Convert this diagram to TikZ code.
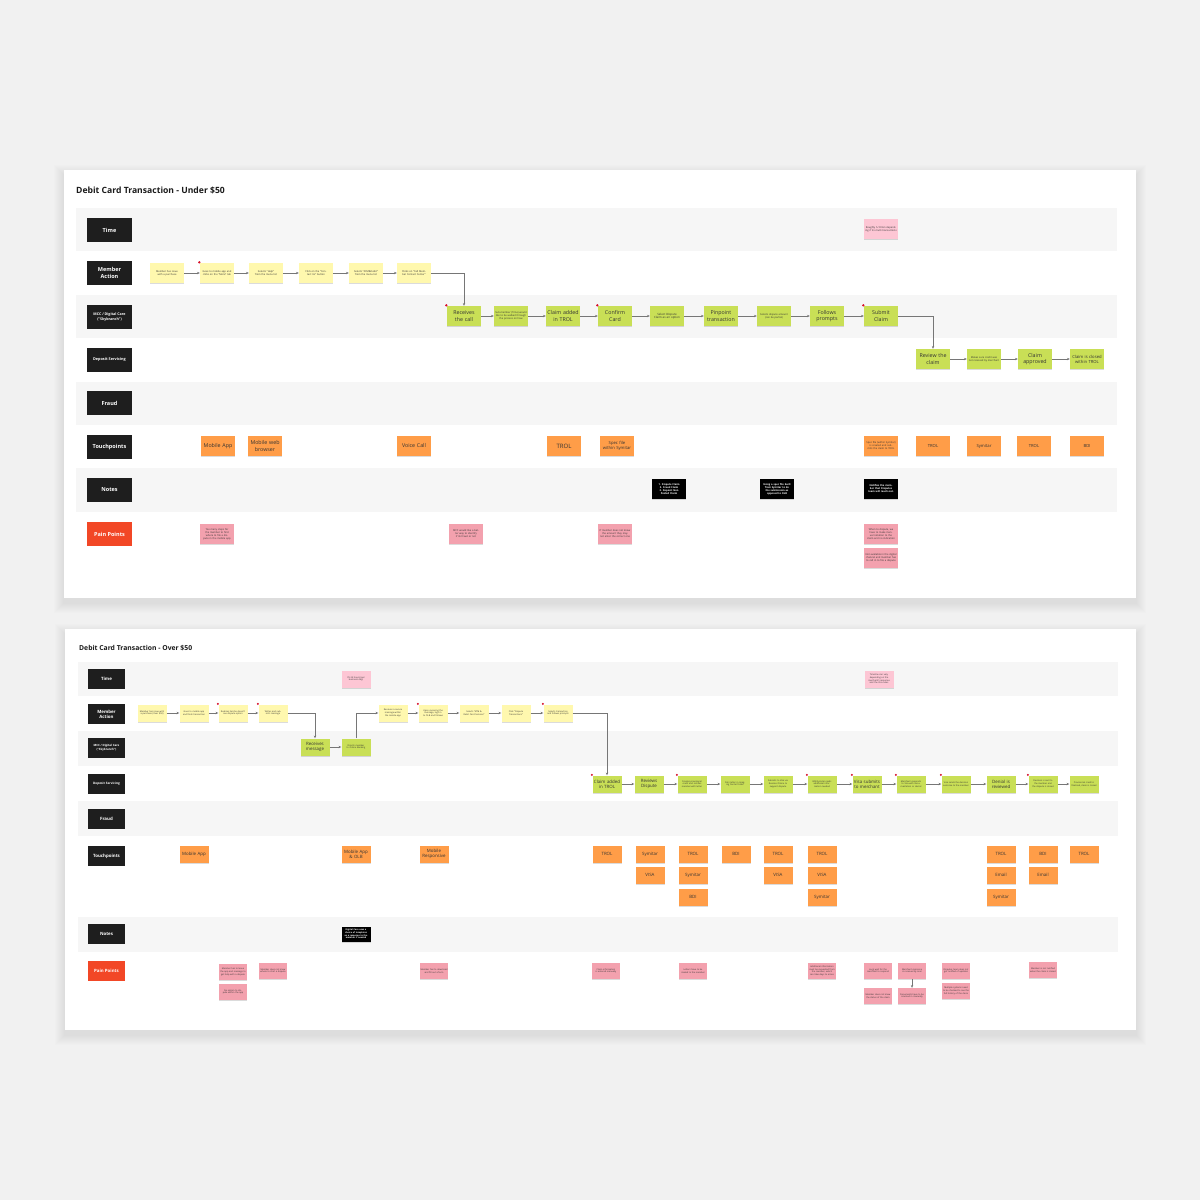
\documentclass[tikz,border=0pt]{standalone}
\usepackage{fontspec}
\setmainfont{Open Sans}
\usetikzlibrary{arrows.meta,shadows}
\definecolor{bgc}{HTML}{F1F1F1}
\definecolor{band}{HTML}{F6F6F6}
\definecolor{stYel}{HTML}{FFF8AE}
\definecolor{stGrn}{HTML}{C9DF56}
\definecolor{stOrg}{HTML}{FF9D48}
\definecolor{stPnk}{HTML}{F3A1AE}
\definecolor{stLpk}{HTML}{FDC6D4}
\definecolor{labBlk}{HTML}{1E1E1E}
\definecolor{painRed}{HTML}{F24726}
\definecolor{connGray}{HTML}{767676}
\definecolor{dotRed}{HTML}{D8102A}
\definecolor{titleC}{HTML}{1A1A1A}
\begin{document}
\begin{tikzpicture}[x=1pt,y=-1pt,
  stk/.style={rectangle,inner sep=0.3pt,align=center,text=black!80,
    drop shadow={shadow xshift=0pt,shadow yshift=-1.2pt,opacity=0.14,fill=black}},
  tsz/.style={stk,minimum width=34pt,minimum height=20pt,text width=32pt},
  bsz/.style={stk,minimum width=29pt,minimum height=17pt,text width=27pt},
  tiny/.style={font=\fontsize{2.5}{3}\selectfont},
  big/.style={font=\fontsize{5.3}{6.3}\selectfont},
  mid/.style={font=\fontsize{4.2}{5}\selectfont},
  btiny/.style={font=\fontsize{2.2}{2.7}\selectfont},
  bbig/.style={font=\fontsize{4.4}{5.2}\selectfont},
  yelT/.style={tsz,fill=stYel,tiny},
  grnT/.style={tsz,fill=stGrn},
  orgT/.style={tsz,fill=stOrg},
  pnkT/.style={tsz,fill=stPnk,tiny},
  lpkT/.style={tsz,fill=stLpk,tiny},
  blkT/.style={tsz,fill=black,text=white,font=\bfseries\fontsize{2.5}{3}\selectfont},
  yelB/.style={bsz,fill=stYel,btiny},
  grnB/.style={bsz,fill=stGrn},
  orgB/.style={bsz,fill=stOrg,bbig},
  pnkB/.style={bsz,fill=stPnk,btiny,minimum width=28pt,minimum height=16pt},
  lpkB/.style={bsz,fill=stLpk,btiny},
  blkB/.style={bsz,fill=black,text=white,font=\bfseries\fontsize{2.2}{2.7}\selectfont},
  lblT/.style={rectangle,fill=labBlk,text=white,minimum width=45pt,minimum height=24pt,align=center,inner sep=0.5pt,font=\bfseries\fontsize{5.5}{6.6}\selectfont},
  lblB/.style={rectangle,fill=labBlk,text=white,minimum width=37pt,minimum height=20pt,align=center,inner sep=0.5pt,font=\bfseries\fontsize{4.4}{5.3}\selectfont},
  conn/.style={draw=connGray,line width=0.5pt,-{Stealth[length=2.8pt,width=2.4pt]}},
  rdot/.style={fill=dotRed}
]
\useasboundingbox (0,0) rectangle (1200,1200);
\fill[bgc] (0,0) rectangle (1200,1200);

% panel shadows
\foreach \i in {1,...,10}{
  \fill[black,opacity=0.006] (64-\i,170-\i+5) rectangle (1136+\i,598+\i+5);
  \fill[black,opacity=0.006] (65-\i,629-\i+5) rectangle (1136+\i,1030+\i+5);
}
\fill[white] (64,170) rectangle (1136,598);
\fill[white] (65,629) rectangle (1136,1030);

% ================= TOP PANEL =================
\node[anchor=west,inner sep=0pt,font=\bfseries\fontsize{8.6}{10}\selectfont,text=titleC] (title1) at (76,190) {Debit Card Transaction - Under \$50};

\fill[band] (76,208) rectangle (1117,251);
\fill[band] (76,295) rectangle (1117,338);
\fill[band] (76,382) rectangle (1117,425);
\fill[band] (76,468) rectangle (1117,512);

\node[lblT] (tTime) at (109.5,230) {Time};
\node[lblT] (tMem) at (109.5,273) {Member\\Action};
\node[lblT,font=\bfseries\fontsize{3.6}{4.6}\selectfont] (tMcc) at (109.5,317) {MCC / Digital Care\\("Skybranch")};
\node[lblT,font=\bfseries\fontsize{3.8}{4.6}\selectfont] (tDep) at (109.5,360) {Deposit Servicing};
\node[lblT] (tFr) at (109.5,403) {Fraud};
\node[lblT] (tTp) at (109.5,447) {Touchpoints};
\node[lblT] (tNo) at (109.5,490) {Notes};
\node[lblT,fill=painRed] (tPp) at (109.5,534) {Pain Points};

% time
\node[lpkT] (tm1) at (881,229) {Roughly 5-10min depending if its multi transactions};

% member action
\node[yelT] (m1) at (167,273) {Member has issue with a purchase};
\node[yelT] (m2) at (217,273) {Goes to mobile app and clicks on the "More" tab};
\node[yelT] (m3) at (266,273) {Selects "Help" from the menu list};
\node[yelT] (m4) at (316,273) {Click on the "Contact Us" button};
\node[yelT] (m5) at (366,273) {Selects "ATM\&Debit" from the menu list};
\node[yelT] (m6) at (414,273) {Clicks on "Call Member Contact Center"};

% MCC
\node[grnT,big] (c1) at (464,316) {Receives\\the call};
\node[grnT,tiny] (c2) at (511,316) {Sub-member (Time) would like to be walked through the process on how};
\node[grnT,big] (c3) at (563,316) {Claim added\\in TROL};
\node[grnT,big] (c4) at (615,316) {Confirm\\Card};
\node[grnT,font=\fontsize{2.9}{3.5}\selectfont] (c5) at (667,316) {Select Dispute Claim as an option};
\node[grnT,big] (c6) at (721,316) {Pinpoint\\transaction};
\node[grnT,tiny] (c7) at (774,316) {Selects dispute amount (can be partial)};
\node[grnT,big] (c8) at (827,316) {Follows\\prompts};
\node[grnT,big] (c9) at (881,316) {Submit\\Claim};

% deposit servicing
\node[grnT,big] (d1) at (933,359) {Review the\\claim};
\node[grnT,tiny] (d2) at (984,359) {Makes sure credit was not received by merchant};
\node[grnT,big] (d3) at (1035,359) {Claim\\approved};
\node[grnT,mid] (d4) at (1087,359) {Claim is closed within TROL};

% touchpoints
\node[orgT,big] (t1) at (218,446) {Mobile App};
\node[orgT,big] (t2) at (265,446) {Mobile web\\browser};
\node[orgT,big] (t3) at (414,446) {Voice Call};
\node[orgT,font=\fontsize{6}{7}\selectfont] (t4) at (564,446) {TROL};
\node[orgT,mid] (t5) at (617,446) {Spec file\\within Symitar};
\node[orgT,tiny] (t6) at (881,446) {Spec file (within Symitar) is created and submits the claim to TROL};
\node[orgT,mid] (t7) at (933,446) {TROL};
\node[orgT,mid] (t8) at (984,446) {Symitar};
\node[orgT,mid] (t9) at (1034,446) {TROL};
\node[orgT,mid] (t10) at (1087,446) {BDI};

% notes
\node[blkT] (n1) at (669,489) {1. Dispute Claim\\2. Fraud Claim\\3. Deposit Non Posted Claim};
\node[blkT] (n2) at (777,489) {Using a spec file built from Symitar to do the submission as opposed to OLB};
\node[blkT] (n3) at (881,489) {Notifies the member that Disputes team will reach out.};

% pain points
\node[pnkT] (p1) at (217,534) {Too many steps for the member to find where to file a dispute in the mobile app};
\node[pnkT] (p2) at (466,534) {MCC would like a better way to identify if its fraud or not};
\node[pnkT] (p3) at (615,534) {If member does not know the amount they may not enter the correct one};
\node[pnkT] (p4) at (881,534) {When to dispute, we have to make manual notation to the claim and no indication};
\node[pnkT] (p5) at (881,558) {Not available in the digital channel and member has to call in to file a dispute};

% red dots
\foreach \n in {m2,c1,c4,c9}{ \fill[rdot] (\n.north west) ++(-0.5,-0.5) circle (1.3pt); }

% connectors
\draw[conn] (m1) -- (m2);
\draw[conn] (m2) -- (m3);
\draw[conn] (m3) -- (m4);
\draw[conn] (m4) -- (m5);
\draw[conn] (m5) -- (m6);
\draw[conn] (m6.east) -| (c1.north);
\draw[conn] (c1) -- (c2);
\draw[conn] (c2) -- (c3);
\draw[conn] (c3) -- (c4);
\draw[conn] (c4) -- (c5);
\draw[conn] (c5) -- (c6);
\draw[conn] (c6) -- (c7);
\draw[conn] (c7) -- (c8);
\draw[conn] (c8) -- (c9);
\draw[conn] (c9.east) -| (d1.north);
\draw[conn] (d1) -- (d2);
\draw[conn] (d2) -- (d3);
\draw[conn] (d3) -- (d4);

% ================= BOTTOM PANEL =================
\node[anchor=west,inner sep=0pt,font=\bfseries\fontsize{6.8}{8}\selectfont,text=titleC] (title2) at (79,648) {Debit Card Transaction - Over \$50};

\fill[band] (78,662) rectangle (1118,696);
\fill[band] (78,731) rectangle (1118,766);
\fill[band] (78,801) rectangle (1118,836);
\fill[band] (78,917) rectangle (1118,952);

\node[lblB] (bTime) at (106.5,679) {Time};
\node[lblB] (bMem) at (106.5,714) {Member\\Action};
\node[lblB,font=\bfseries\fontsize{2.9}{3.7}\selectfont] (bMcc) at (106.5,748) {MCC / Digital Care\\("Skybranch")};
\node[lblB,font=\bfseries\fontsize{3.1}{3.8}\selectfont] (bDep) at (106.5,784) {Deposit Servicing};
\node[lblB] (bFr) at (106.5,819) {Fraud};
\node[lblB] (bTp) at (106.5,856) {Touchpoints};
\node[lblB] (bNo) at (106.5,934) {Notes};
\node[lblB,fill=painRed] (bPp) at (106.5,971) {Pain Points};

% time
\node[lpkB] (bt1) at (356,679) {It's 24 hours (per business day)};
\node[lpkB] (bt2) at (879,679) {Timeline can vary depending on the merchant's response and the Visa rules};

% member action
\node[yelB] (b1) at (152,713) {Member has issue with a purchase (Over \$50)};
\node[yelB] (b2) at (194,713) {Goes to mobile app and finds transaction};
\node[yelB] (b3) at (233,713) {Realizes he/she doesn't see dispute option};
\node[yelB] (b4) at (273,713) {Writes and submits message};
\node[yelB] (b5) at (393,713) {Receives a secure message within the mobile app};
\node[yelB] (b6) at (433,713) {Upon receiving the message, logs in to OLB and follows};
\node[yelB] (b7) at (474,713) {Selects "ATM \& Debit Card Services"};
\node[yelB] (b8) at (516,713) {Click "Dispute Transactions"};
\node[yelB] (b9) at (558,713) {Selects transaction and follows prompts};

% MCC
\node[grnB,bbig] (bc1) at (315,747) {Receives\\message};
\node[grnB,btiny] (bc2) at (356,747) {Directs member to Online Banking};

% deposit servicing
\node[grnB,bbig] (bd1) at (607,784) {Claim added\\in TROL};
\node[grnB,bbig] (bd2) at (649,784) {Reviews\\Dispute};
\node[grnB,btiny] (bd3) at (692,784) {Creates provisional credit and notifies member with letter};
\node[grnB,btiny] (bd4) at (735,784) {Puts letter in Imaging Center folder};
\node[grnB,btiny] (bd5) at (778,784) {Submits to Visa via Resolve Online to support dispute};
\node[grnB,btiny] (bd6) at (822,784) {BDI/Symitar reads additional information needed};
\node[grnB,bbig] (bd7) at (867,784) {Visa submits\\to merchant};
\node[grnB,btiny] (bd8) at (911,784) {Merchant responds to Visa with documentation or denial};
\node[grnB,btiny] (bd9) at (956,784) {Visa sends the decision outcome to the member};
\node[grnB,bbig] (bd10) at (1001,784) {Denial is\\reviewed};
\node[grnB,btiny] (bd11) at (1043,784) {Decision is sent to the member and the dispute is closed};
\node[grnB,btiny] (bd12) at (1084,784) {Provisional credit is finalized, claim is closed};

% touchpoints
\node[orgB] (bp1) at (194,854) {Mobile App};
\node[orgB] (bp2) at (356,854) {Mobile App\\\& OLB};
\node[orgB] (bp3) at (434,854) {Mobile\\Responsive};
\node[orgB] (bp4) at (607,854) {TROL};
\node[orgB] (bp5) at (650,854) {Symitar};
\node[orgB] (bp6) at (650,875) {VISA};
\node[orgB] (bp7) at (693,854) {TROL};
\node[orgB] (bp8) at (693,875) {Symitar};
\node[orgB] (bp9) at (693,897) {BDI};
\node[orgB] (bp10) at (736,854) {BDI};
\node[orgB] (bp11) at (778,854) {TROL};
\node[orgB] (bp12) at (778,875) {VISA};
\node[orgB] (bp13) at (822,854) {TROL};
\node[orgB] (bp14) at (822,875) {VISA};
\node[orgB] (bp15) at (822,897) {Symitar};
\node[orgB] (bp16) at (1001,854) {TROL};
\node[orgB] (bp17) at (1001,875) {Email};
\node[orgB] (bp18) at (1001,897) {Symitar};
\node[orgB] (bp19) at (1043,854) {BDI};
\node[orgB] (bp20) at (1043,875) {Email};
\node[orgB] (bp21) at (1084,854) {TROL};

% notes
\node[blkB,minimum height=15pt] (bn1) at (356,934) {Digital Care uses a choice of templates as a response to the member if needed};

% pain points
\node[pnkB] (pp1) at (233,972) {Member has to leave the app and message to get help with a dispute};
\node[pnkB] (pp2) at (233,992) {No option to dispute within the app};
\node[pnkB] (pp3) at (273,971) {Member does not know where to start a dispute};
\node[pnkB] (pp4) at (434,971) {Member has to download and fill out a form};
\node[pnkB] (pp5) at (606,971) {Claim information is entered manually};
\node[pnkB] (pp6) at (693,971) {Letters have to be mailed to the member};
\node[pnkB] (pp7) at (822,971) {Additional information must be requested from the member, which can take days to arrive};
\node[pnkB] (pp8) at (878,971) {Long wait for the merchant to respond};
\node[pnkB] (pp9) at (878,996) {Member does not know the status of the claim};
\node[pnkB] (pp10) at (912,971) {Merchant response is received by mail};
\node[pnkB] (pp11) at (912,996) {Documents have to be scanned in manually};
\node[pnkB] (pp12) at (956,971) {Disputes team does not get notified of updates};
\node[pnkB] (pp13) at (956,991) {Multiple systems need to be checked to see the full history of the claim};
\node[pnkB] (pp14) at (1043,970) {Member is not notified when the claim is closed};

% red dots
\foreach \n in {b3,b4,b6,b9,bd1,bd3,bd6,bd7,bd8,bd9,bd11}{ \fill[rdot] (\n.north west) ++(-0.4,-0.4) circle (1.1pt); }

% connectors
\draw[conn] (b1) -- (b2);
\draw[conn] (b2) -- (b3);
\draw[conn] (b3) -- (b4);
\draw[conn] (b4.east) -| (bc1.north);
\draw[conn] (bc1) -- (bc2);
\draw[conn] (bc2.north) |- (b5.west);
\draw[conn] (b5) -- (b6);
\draw[conn] (b6) -- (b7);
\draw[conn] (b7) -- (b8);
\draw[conn] (b8) -- (b9);
\draw[conn] (b9.east) -| (bd1.north);
\draw[conn] (bd1) -- (bd2);
\draw[conn] (bd2) -- (bd3);
\draw[conn] (bd3) -- (bd4);
\draw[conn] (bd4) -- (bd5);
\draw[conn] (bd5) -- (bd6);
\draw[conn] (bd6) -- (bd7);
\draw[conn] (bd7) -- (bd8);
\draw[conn] (bd8) -- (bd9);
\draw[conn] (bd9) -- (bd10);
\draw[conn] (bd10) -- (bd11);
\draw[conn] (bd11) -- (bd12);
\draw[conn] (pp10) -- (pp11);
\end{tikzpicture}
\end{document}
